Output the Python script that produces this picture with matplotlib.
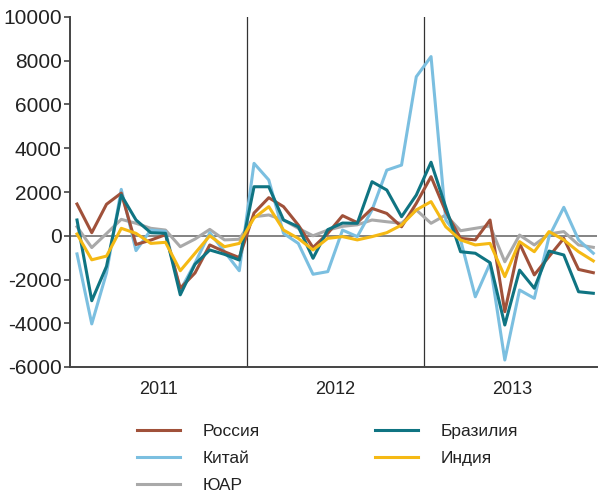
import matplotlib
matplotlib.use("Agg")
import matplotlib.pyplot as plt
import matplotlib.transforms as mtransforms
import numpy as np

plt.rcParams['font.family'] = ['Liberation Sans', 'DejaVu Sans']

# monthly values, Jan 2011 .. Dec 2013
russia = [1450, 140, 1440, 1950, -400, -200, 50, -2400, -1700, -420, -730, -1000,
          1040, 1740, 1330, 490, -540, 110, 920, 600, 1250, 1020, 410, 1480,
          2700, 1100, -120, -190, 720, -3470, -350, -1790, -950, -120, -1540, -1690]
brazil = [720, -2970, -1400, 1860, 720, 140, 110, -2700, -1300, -650, -850, -1110,
          2240, 2240, 720, 410, -1030, 280, 580, 570, 2470, 2090, 870, 1860,
          3360, 1300, -730, -800, -1230, -4080, -1570, -2400, -700, -880, -2560, -2630]
china = [-830, -4030, -1700, 2120, -680, 260, 200, -2500, -1250, 140, -730, -1600,
         3310, 2550, 110, -350, -1760, -1640, 260, -40, 1180, 3000, 3230, 7270,
         8190, 720, -190, -2790, -1260, -5680, -2480, -2860, -40, 1300, -190, -800]
india = [80, -1100, -930, 340, 110, -350, -300, -1600, -800, 0, -500, -350,
         810, 1330, 260, -120, -650, -120, -40, -190, -40, 140, 490, 1180,
         1560, 410, -190, -420, -350, -1870, -270, -730, 190, -190, -730, -1150]
sar = [410, -540, 100, 750, 570, 340, 260, -500, -150, 290, -190, -160,
       870, 950, 720, 340, 0, 260, 430, 500, 720, 640, 570, 1180,
       570, 950, 230, 340, 450, -1190, 30, -420, 80, 190, -420, -530]

years = ['2011', '2012', '2013']
yticks = [-6000, -4000, -2000, 0, 2000, 4000, 6000, 8000, 10000]

months = np.arange(len(russia))

fig = plt.figure(figsize=(5.99, 4.96), dpi=100)
ax = fig.add_axes([70 / 599, 129 / 496, 527 / 599, 350 / 496])

ax.axhline(0, color='#7a7a7a', lw=1.3, zorder=1)
for b in [11.5, 23.5]:
    ax.axvline(b, color='#333333', lw=0.9, zorder=1)

lw = 2.2
l_ru, = ax.plot(months, russia, color='#a0513a', lw=lw, zorder=4, label='Россия')
l_cn, = ax.plot(months, china, color='#7bbfe0', lw=lw, zorder=3, label='Китай')
l_za, = ax.plot(months, sar, color='#a9a9a9', lw=lw, zorder=2, label='ЮАР')
l_br, = ax.plot(months, brazil, color='#0f7482', lw=lw, zorder=5, label='Бразилия')
l_in, = ax.plot(months, india, color='#f5b914', lw=lw, zorder=6, label='Индия')

ax.set_xlim(-0.475, 35.25)
ax.set_ylim(-6000, 10000)
ax.set_yticks(yticks)
ax.set_yticklabels([str(v) for v in yticks], fontsize=15, color='#222222')
ax.set_xticks([])
ax.tick_params(axis='y', direction='out', length=4, width=1.2, color='#444444', pad=2)

for s in ['top', 'right']:
    ax.spines[s].set_visible(False)
for s in ['left', 'bottom']:
    ax.spines[s].set_color('#444444')
    ax.spines[s].set_linewidth(1.4)

trans = mtransforms.blended_transform_factory(ax.transData, ax.transAxes)
for k, yr in enumerate(years):
    ax.text(5.5 + 12 * k, -0.063, yr, transform=trans, ha='center', va='center',
            fontsize=13, color='#222222')

leg = fig.legend(handles=[l_ru, l_cn, l_za, l_br, l_in], ncol=2, frameon=False,
                 loc='upper left', bbox_to_anchor=(137 / 599, 1 - 424 / 496),
                 fontsize=12.5, handlelength=2.5, handletextpad=1.3,
                 columnspacing=6.6, labelspacing=0.68, borderpad=0, borderaxespad=0)
for t in leg.get_texts():
    t.set_color('#222222')

fig.savefig('out.png', dpi=100)
